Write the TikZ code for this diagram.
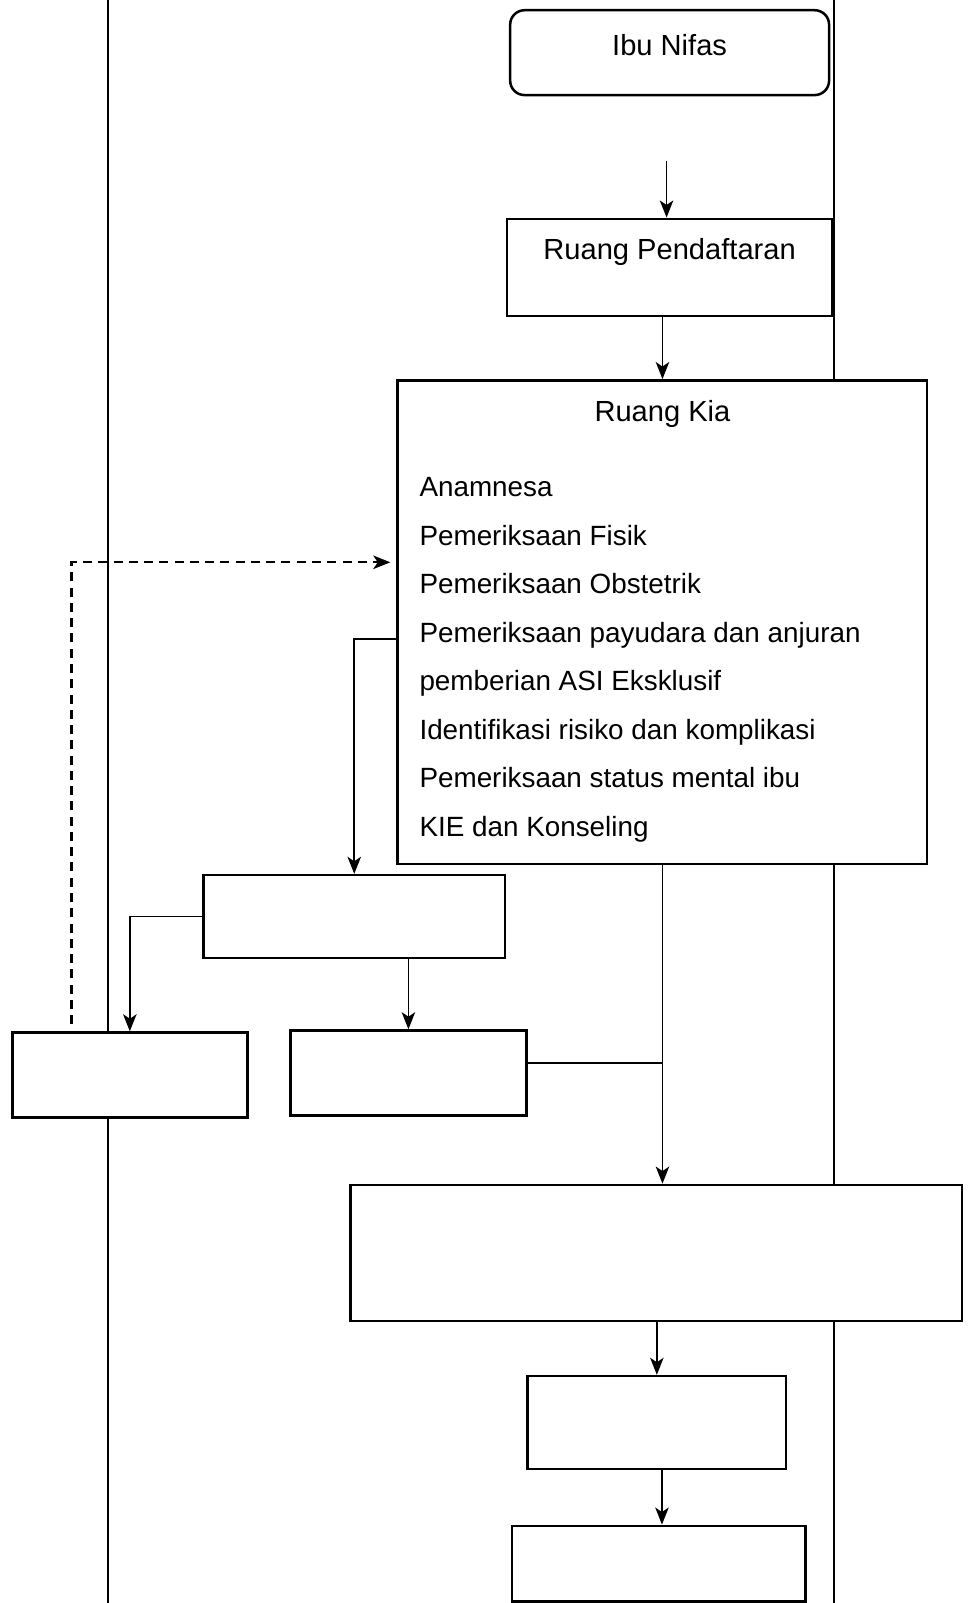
\documentclass[tikz,border=0pt]{standalone}
\usepackage{fontspec}
\setmainfont{Liberation Sans}
\usetikzlibrary{arrows.meta}
\usetikzlibrary{calc}

\begin{document}
\begin{tikzpicture}
    [x=0.02cm,y=-0.02cm,
     room/.style={rectangle,draw,fill=white,line width=1.4pt,inner sep=0pt},
     flow/.style={line width=0.9pt,-{Stealth[length=9.5pt,width=7.5pt,inset=2.5pt]}},
     back/.style={line width=1.2pt,dash pattern=on 5pt off 3.5pt,-{Stealth[length=9.5pt,width=7.5pt,inset=2.5pt]}},
     txt/.style={font=\fontsize{15.5}{27}\selectfont},
     title/.style={font=\fontsize{16.2}{20}\selectfont,anchor=center}]

    \useasboundingbox (0,0) rectangle (951,1568);
    \draw[line width=1pt] (106,0) -- (106,1568);
    \draw[line width=1pt] (816,0) -- (816,1568);

\node[room,rounded corners=8pt,minimum width=6.24cm,minimum height=1.66cm,
      label={[title,yshift=-0.7cm]north:Ibu Nifas}] (ibu) at (655,51.5) {};
\coordinate (ibuend) at (652,157);
\node[room,minimum width=6.36cm,minimum height=1.90cm,
      label={[title,yshift=-0.68cm]north:Ruang Pendaftaran}] (daftar) at (655,261.5) {};
\node[room,minimum width=10.36cm,minimum height=9.46cm,
      label={[title,yshift=-0.68cm]north:Ruang Kia}] (kia) at (648,608.5) {};
\node[txt,anchor=north west,inner sep=0pt,align=left] (kialist) at (410,467)
     {Anamnesa\\Pemeriksaan Fisik\\Pemeriksaan Obstetrik\\Pemeriksaan payudara dan anjuran\\
      pemberian ASI Eksklusif\\Identifikasi risiko dan komplikasi\\Pemeriksaan status mental ibu\\
      KIE dan Konseling};

\node[room,minimum width=5.90cm,minimum height=1.62cm] (rujuk) at (346.5,896.5) {};
\node[room,minimum width=4.60cm,minimum height=1.66cm] (kiri) at (127,1051.5) {};
\node[room,minimum width=4.62cm,minimum height=1.66cm] (tengah) at (399.5,1049.5) {};
\node[room,minimum width=11.96cm,minimum height=2.66cm] (besar) at (642,1225.5) {};
\node[room,minimum width=5.06cm,minimum height=1.82cm] (lanjut) at (642.5,1391.5) {};
\node[room,minimum width=5.74cm,minimum height=1.48cm] (akhir) at (644.5,1529.5) {};

\draw[flow] (ibuend) -- (ibuend |- daftar.north);
\draw[flow] (daftar.south -| kia.north) -- (kia.north);
\draw[flow] ([yshift=-0.33cm]kia.west) -| (rujuk.north);
\draw[flow] (rujuk.west) -| (kiri.north);
\draw[flow] (rujuk.south -| tengah.north) -- (tengah.north);
\draw[line width=0.9pt] ([yshift=0.19cm]tengah.east) -- ([yshift=0.19cm]tengah.east -| kia.south);
\draw[flow] (kia.south) -- (kia.south |- besar.north);
\draw[flow] (besar.south -| lanjut.north) -- (lanjut.north);
\draw[flow] ([xshift=0.1cm]lanjut.south) -- ([xshift=0.1cm]lanjut.south |- akhir.north);
\draw[back] ([xshift=-1.14cm,yshift=0.14cm]kiri.north) |- ([xshift=-0.12cm,yshift=1.17cm]kia.west);

  \end{tikzpicture}
\end{document}
